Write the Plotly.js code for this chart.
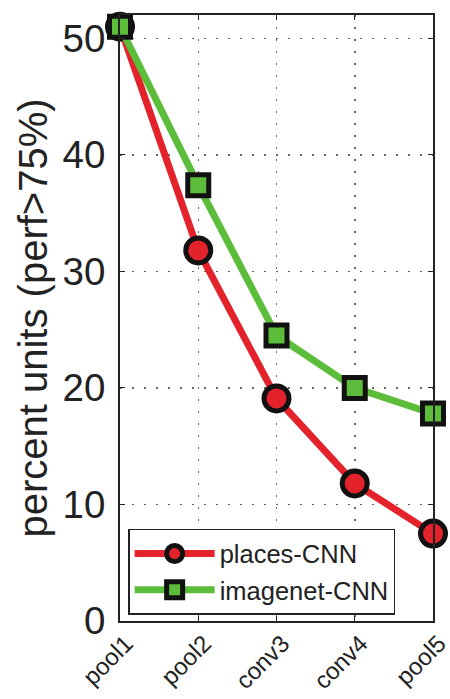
<!DOCTYPE html>
<html><head><meta charset="utf-8">
<script src="https://cdn.plot.ly/plotly-3.0.1.min.js"></script>
<style>body{margin:0;background:#fff}#c{width:450px;height:699px}</style>
</head><body><div id="c"></div>
<script>
const layers = ["pool1","pool2","conv3","conv4","pool5"];
const placesCNN = [51.0, 31.8, 19.1, 11.8, 7.5];
const imagenetCNN = [51.0, 37.4, 24.5, 20.0, 17.8];
const yTicks = [0,10,20,30,40,50];

const traces = [
 {x: layers, y: placesCNN, name: "places-CNN", type: "scatter", mode: "lines+markers",
  line: {color: "#e3222b", width: 7},
  marker: {symbol: "circle", size: 25, color: "#e3222b", line: {color: "#111", width: 5}}, cliponaxis: false},
 {x: layers, y: imagenetCNN, name: "imagenet-CNN", type: "scatter", mode: "lines+markers",
  line: {color: "#5cbd3a", width: 7},
  marker: {symbol: "square", size: 21, color: "#5cbd3a", line: {color: "#111", width: 5}}, cliponaxis: false}
];
const layout = {
 width: 450, height: 699,
 margin: {l: 120, r: 17, t: 15, b: 78},
 paper_bgcolor: "#fff", plot_bgcolor: "#fff",
 font: {family: "Liberation Sans, Arial, sans-serif", color: "#222"},
 xaxis: {type: "category", range: [0, 4], tickangle: -45, tickfont: {size: 24}, automargin: false,
   ticklabelshift: 6, ticklabelstandoff: -3,
   showgrid: true, gridcolor: "#666", griddash: "2px,10px", gridwidth: 1.5,
   ticks: "inside", ticklen: 5, tickcolor: "#222", showline: true, linecolor: "#222", linewidth: 2, mirror: "ticks", zeroline: false},
 yaxis: {range: [0, 52], tickvals: yTicks, tickfont: {size: 38.5}, automargin: false,
   ticklabelstandoff: 5,
   showgrid: true, gridcolor: "#666", griddash: "2px,10px", gridwidth: 1.5,
   ticks: "inside", ticklen: 5, tickcolor: "#222", showline: true, linecolor: "#222", linewidth: 2, mirror: "ticks", zeroline: false,
   title: {text: "percent units (perf>75%)", font: {size: 40}, standoff: 2}},
 legend: {x: 0.026, y: 0.01, xanchor: "left", yanchor: "bottom", bgcolor: "#fff",
   bordercolor: "#222", borderwidth: 1.5, font: {size: 25.5}, itemwidth: 80, tracegroupgap: 0},
 showlegend: true
};
Plotly.newPlot("c", traces, layout, {displayModeBar: false, staticPlot: true});
</script></body></html>
